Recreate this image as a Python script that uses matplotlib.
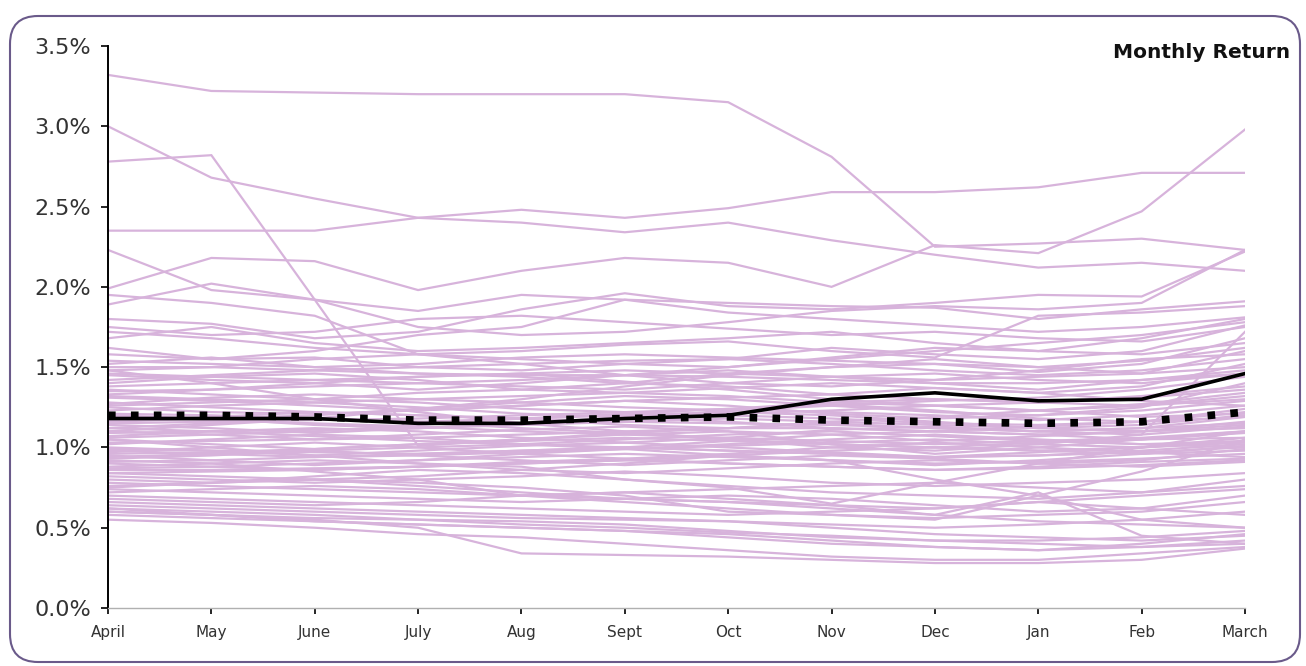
import matplotlib
matplotlib.use("Agg")
import matplotlib.pyplot as plt
import matplotlib.patches as mpatches
import matplotlib.transforms as mtransforms
from matplotlib.ticker import FuncFormatter

# ============================================================
# DATA (monthly return, %)
# ============================================================

months = ["April", "May", "June", "July", "Aug", "Sept",
          "Oct", "Nov", "Dec", "Jan", "Feb", "March"]

fund_return = [1.18, 1.18, 1.18, 1.15, 1.15, 1.18, 1.20, 1.30, 1.34, 1.29, 1.30, 1.46]
peer_median = [1.20, 1.20, 1.19, 1.17, 1.17, 1.18, 1.19, 1.17, 1.16, 1.15, 1.16, 1.22]

peers_high = [
    [3.32, 3.22, 3.21, 3.20, 3.20, 3.20, 3.15, 2.81, 2.25, 2.27, 2.30, 2.23],
    [3.00, 2.68, 2.55, 2.43, 2.40, 2.34, 2.40, 2.29, 2.20, 2.12, 2.15, 2.10],
    [2.78, 2.82, 1.92, 1.01, 1.05, 1.08, 1.10, 1.02, 0.96, 1.00, 1.05, 1.10],
    [2.35, 2.35, 2.35, 2.43, 2.48, 2.43, 2.49, 2.59, 2.59, 2.62, 2.71, 2.71],
    [1.99, 2.18, 2.16, 1.98, 2.10, 2.18, 2.15, 2.00, 2.26, 2.21, 2.47, 2.98],
    [2.23, 1.98, 1.92, 1.75, 1.70, 1.72, 1.78, 1.85, 1.88, 1.86, 1.90, 2.23],
    [1.89, 2.02, 1.92, 1.85, 1.95, 1.92, 1.90, 1.88, 1.87, 1.80, 1.86, 1.91],
    [1.80, 1.77, 1.68, 1.72, 1.86, 1.96, 1.88, 1.86, 1.90, 1.95, 1.94, 2.22],
    [1.68, 1.75, 1.65, 1.60, 1.62, 1.65, 1.68, 1.72, 1.65, 1.60, 1.68, 1.80],
    [1.95, 1.90, 1.82, 1.58, 1.55, 1.52, 1.50, 1.55, 1.60, 1.65, 1.70, 1.78],
    [1.75, 1.70, 1.72, 1.80, 1.82, 1.78, 1.74, 1.70, 1.72, 1.68, 1.66, 1.75],
    [1.62, 1.55, 1.60, 1.70, 1.75, 1.92, 1.84, 1.80, 1.76, 1.72, 1.75, 1.81],
    [1.72, 1.68, 1.62, 1.58, 1.60, 1.64, 1.66, 1.60, 1.56, 1.82, 1.84, 1.88],
]

peers_mid = [
    [1.58, 1.55, 1.56, 1.50, 1.48, 1.52, 1.55, 1.62, 1.58, 1.55, 1.60, 1.76],
    [1.52, 1.56, 1.50, 1.46, 1.44, 1.40, 1.46, 1.50, 1.52, 1.47, 1.52, 1.68],
    [1.48, 1.50, 1.55, 1.58, 1.52, 1.45, 1.40, 1.38, 1.42, 1.48, 1.55, 1.58],
    [1.45, 1.42, 1.40, 1.36, 1.40, 1.45, 1.48, 1.44, 1.40, 1.36, 1.42, 1.48],
    [1.40, 1.44, 1.46, 1.42, 1.36, 1.34, 1.37, 1.40, 1.37, 1.34, 1.38, 1.52],
    [1.36, 1.33, 1.30, 1.34, 1.36, 1.40, 1.38, 1.33, 1.30, 1.28, 1.31, 1.36],
    [1.33, 1.36, 1.40, 1.44, 1.46, 1.41, 1.36, 1.30, 1.26, 1.23, 1.26, 1.32],
    [1.31, 1.29, 1.26, 1.23, 1.26, 1.29, 1.31, 1.33, 1.37, 1.34, 1.29, 1.26],
    [1.27, 1.31, 1.33, 1.30, 1.28, 1.25, 1.23, 1.26, 1.29, 1.31, 1.36, 1.44],
    [1.25, 1.22, 1.21, 1.23, 1.26, 1.29, 1.26, 1.21, 1.18, 1.20, 1.23, 1.29],
    [1.23, 1.26, 1.28, 1.25, 1.21, 1.19, 1.21, 1.23, 1.26, 1.23, 1.19, 1.21],
    [1.20, 1.18, 1.14, 1.12, 1.15, 1.18, 1.23, 1.27, 1.23, 1.18, 1.16, 1.19],
    [1.17, 1.19, 1.22, 1.20, 1.18, 1.14, 1.12, 1.16, 1.19, 1.23, 1.27, 1.34],
    [1.14, 1.12, 1.09, 1.12, 1.15, 1.19, 1.16, 1.12, 1.10, 1.13, 1.16, 1.24],
    [1.12, 1.15, 1.18, 1.16, 1.12, 1.09, 1.12, 1.15, 1.12, 1.10, 1.08, 1.13],
    [1.10, 1.08, 1.05, 1.08, 1.11, 1.13, 1.10, 1.08, 1.04, 1.07, 1.10, 1.16],
    [1.07, 1.10, 1.12, 1.10, 1.06, 1.03, 1.06, 1.11, 1.13, 1.10, 1.12, 1.19],
    [1.05, 1.02, 0.99, 1.02, 1.05, 1.09, 1.05, 1.02, 1.00, 1.03, 1.05, 1.09],
    [1.02, 1.05, 1.08, 1.06, 1.02, 0.99, 1.02, 1.05, 1.08, 1.05, 1.02, 1.04],
    [1.00, 0.98, 0.95, 0.98, 1.01, 1.03, 1.00, 0.97, 0.94, 0.97, 1.00, 1.03],
    [0.97, 1.00, 1.03, 1.00, 0.96, 0.93, 0.96, 1.00, 1.03, 1.00, 0.97, 0.94],
    [0.95, 0.92, 0.89, 0.92, 0.96, 0.99, 0.95, 0.92, 0.89, 0.92, 0.96, 1.01],
    [0.93, 0.95, 0.98, 0.95, 0.92, 0.89, 0.92, 0.95, 0.93, 0.90, 0.92, 0.99],
    [0.90, 0.88, 0.86, 0.88, 0.91, 0.93, 0.90, 0.88, 0.86, 0.88, 0.91, 0.93],
    [0.88, 0.90, 0.92, 0.90, 0.86, 0.84, 0.87, 0.90, 0.92, 0.90, 0.88, 0.91],
    [1.50, 1.50, 1.48, 1.46, 1.45, 1.45, 1.44, 1.42, 1.40, 1.40, 1.42, 1.46],
    [1.42, 1.45, 1.48, 1.50, 1.52, 1.54, 1.55, 1.52, 1.48, 1.45, 1.48, 1.55],
    [1.35, 1.36, 1.38, 1.40, 1.42, 1.45, 1.50, 1.56, 1.62, 1.60, 1.58, 1.65],
    [1.28, 1.25, 1.22, 1.20, 1.18, 1.16, 1.15, 1.14, 1.12, 1.10, 1.12, 1.15],
    [1.16, 1.18, 1.20, 1.24, 1.28, 1.32, 1.30, 1.26, 1.22, 1.20, 1.25, 1.40],
    [1.06, 1.08, 1.10, 1.14, 1.18, 1.20, 1.22, 1.20, 1.16, 1.12, 1.10, 1.12],
    [0.99, 0.98, 0.97, 0.96, 0.98, 1.00, 1.04, 1.08, 1.10, 1.08, 1.05, 1.06],
    [0.94, 0.96, 0.98, 1.00, 1.02, 1.05, 1.08, 1.10, 1.07, 1.04, 1.02, 1.00],
    [0.86, 0.86, 0.87, 0.88, 0.90, 0.92, 0.95, 0.98, 1.00, 0.98, 0.96, 0.98],
    [1.05, 1.00, 0.95, 0.90, 0.88, 0.80, 0.75, 0.65, 0.78, 0.90, 1.00, 1.10],
    [0.84, 0.82, 0.80, 0.78, 0.75, 0.70, 0.60, 0.58, 0.55, 0.70, 0.85, 1.05],
    [1.48, 1.40, 1.30, 1.22, 1.15, 1.10, 1.05, 1.00, 0.98, 1.02, 1.08, 1.72],
    [1.10, 1.14, 1.18, 1.24, 1.30, 1.38, 1.45, 1.50, 1.55, 1.50, 1.46, 1.60],
    [1.46, 1.44, 1.42, 1.44, 1.46, 1.48, 1.46, 1.44, 1.42, 1.44, 1.46, 1.50],
    [1.38, 1.40, 1.42, 1.40, 1.38, 1.36, 1.40, 1.44, 1.46, 1.42, 1.40, 1.46],
    [1.32, 1.30, 1.28, 1.30, 1.32, 1.34, 1.32, 1.28, 1.26, 1.28, 1.32, 1.38],
    [1.26, 1.28, 1.30, 1.28, 1.24, 1.22, 1.24, 1.28, 1.30, 1.28, 1.26, 1.30],
    [1.21, 1.20, 1.18, 1.16, 1.18, 1.21, 1.24, 1.22, 1.20, 1.17, 1.20, 1.26],
    [1.15, 1.16, 1.17, 1.18, 1.20, 1.22, 1.20, 1.18, 1.15, 1.14, 1.16, 1.22],
    [1.09, 1.10, 1.11, 1.12, 1.14, 1.16, 1.18, 1.16, 1.14, 1.12, 1.14, 1.20],
    [1.03, 1.04, 1.05, 1.06, 1.08, 1.10, 1.12, 1.12, 1.10, 1.08, 1.10, 1.14],
    [0.98, 0.96, 0.94, 0.95, 0.97, 0.99, 1.01, 1.03, 1.05, 1.02, 1.00, 1.06],
    [0.96, 0.97, 0.99, 1.02, 1.04, 1.06, 1.04, 1.02, 1.00, 0.98, 1.00, 1.04],
    [0.91, 0.92, 0.94, 0.96, 0.98, 1.00, 0.98, 0.96, 0.94, 0.95, 0.97, 1.00],
    [0.87, 0.88, 0.90, 0.92, 0.94, 0.96, 0.94, 0.92, 0.90, 0.91, 0.93, 0.96],
    [0.84, 0.85, 0.86, 0.88, 0.90, 0.92, 0.90, 0.88, 0.86, 0.87, 0.89, 0.92],
    [1.12, 1.10, 1.07, 1.04, 1.02, 1.00, 0.98, 0.96, 0.94, 0.95, 0.98, 1.02],
    [1.19, 1.17, 1.15, 1.13, 1.10, 1.08, 1.06, 1.04, 1.02, 1.04, 1.06, 1.10],
    [1.54, 1.52, 1.50, 1.52, 1.56, 1.58, 1.56, 1.54, 1.52, 1.50, 1.54, 1.62],
]

peers_low = [
    [0.82, 0.80, 0.78, 0.80, 0.82, 0.85, 0.82, 0.78, 0.76, 0.78, 0.80, 0.84],
    [0.80, 0.78, 0.82, 0.86, 0.84, 0.80, 0.76, 0.72, 0.70, 0.68, 0.72, 0.80],
    [0.78, 0.76, 0.74, 0.72, 0.70, 0.72, 0.74, 0.76, 0.78, 0.75, 0.72, 0.76],
    [0.76, 0.78, 0.80, 0.76, 0.72, 0.68, 0.66, 0.64, 0.62, 0.66, 0.70, 0.74],
    [0.74, 0.72, 0.70, 0.68, 0.66, 0.68, 0.70, 0.68, 0.64, 0.60, 0.62, 0.70],
    [0.72, 0.74, 0.76, 0.74, 0.70, 0.66, 0.62, 0.58, 0.56, 0.58, 0.60, 0.66],
    [0.70, 0.68, 0.66, 0.64, 0.62, 0.60, 0.58, 0.60, 0.62, 0.66, 0.62, 0.58],
    [0.68, 0.66, 0.64, 0.66, 0.70, 0.72, 0.68, 0.64, 0.58, 0.54, 0.52, 0.50],
    [0.66, 0.64, 0.62, 0.60, 0.58, 0.56, 0.54, 0.52, 0.50, 0.52, 0.55, 0.60],
    [0.64, 0.62, 0.60, 0.58, 0.56, 0.55, 0.54, 0.50, 0.46, 0.44, 0.42, 0.45],
    [0.62, 0.60, 0.58, 0.55, 0.54, 0.52, 0.48, 0.44, 0.42, 0.40, 0.38, 0.40],
    [0.60, 0.58, 0.56, 0.55, 0.52, 0.50, 0.47, 0.45, 0.42, 0.42, 0.44, 0.48],
    [0.62, 0.58, 0.54, 0.52, 0.50, 0.48, 0.44, 0.40, 0.38, 0.36, 0.38, 0.42],
    [0.58, 0.56, 0.54, 0.52, 0.50, 0.48, 0.46, 0.42, 0.38, 0.36, 0.40, 0.46],
    [0.55, 0.53, 0.50, 0.46, 0.44, 0.40, 0.36, 0.32, 0.30, 0.30, 0.34, 0.38],
    [0.60, 0.58, 0.55, 0.50, 0.34, 0.33, 0.32, 0.30, 0.28, 0.28, 0.30, 0.37],
    [0.75, 0.78, 0.80, 0.82, 0.86, 0.90, 0.95, 0.92, 0.80, 0.70, 0.55, 0.50],
    [0.92, 0.90, 0.85, 0.80, 0.70, 0.68, 0.66, 0.62, 0.58, 0.72, 0.45, 0.40],
]

# ============================================================
# PLOT
# ============================================================

W, H = 1306, 666
fig = plt.figure(figsize=(W / 100, H / 100), dpi=100)
ax = fig.add_axes([108 / W, 1 - 608 / H, (1245 - 108) / W, (608 - 46) / H])

x = list(range(len(months)))
peer_color = "#d7b3db"

for series in peers_high + peers_mid + peers_low:
    ax.plot(x, series, color=peer_color, lw=1.6, zorder=1,
            solid_joinstyle="miter")

ax.plot(x, fund_return, color="black", lw=2.6, zorder=3)
ax.plot(x, peer_median, color="black", lw=5.5, zorder=4,
        dashes=(1, 2), dash_capstyle="butt")

ax.set_xlim(0, len(months) - 1)
ax.set_ylim(0, 3.5)
ax.set_yticks([0, 0.5, 1.0, 1.5, 2.0, 2.5, 3.0, 3.5])
ax.yaxis.set_major_formatter(FuncFormatter(lambda v, p: f"{v:.1f}%"))
ax.set_xticks(x)
ax.set_xticklabels(months)

for side in ["top", "right"]:
    ax.spines[side].set_visible(False)
ax.spines["left"].set_color("black")
ax.spines["left"].set_linewidth(1.4)
ax.spines["bottom"].set_color("#b0b0b0")
ax.spines["bottom"].set_linewidth(1.0)

ax.tick_params(axis="y", length=5, width=1.2, pad=7,
               labelsize=16, labelcolor="#333333")
ax.tick_params(axis="x", length=4, width=1.2, pad=8,
               labelsize=11, labelcolor="#333333")

fig.text(1290 / W, 1 - 52 / H, "Monthly Return", ha="right", va="center",
         fontsize=14.5, fontweight="bold", color="#111111")

# rounded purple frame round the whole chart
frame = mpatches.FancyBboxPatch(
    (10, 4), 1290, 646,
    boxstyle="round,pad=0,rounding_size=28",
    transform=mtransforms.IdentityTransform(),
    facecolor="none", edgecolor="#6a5a8a", lw=1.5,
)
fig.add_artist(frame)

fig.savefig("out.png", dpi=100)
